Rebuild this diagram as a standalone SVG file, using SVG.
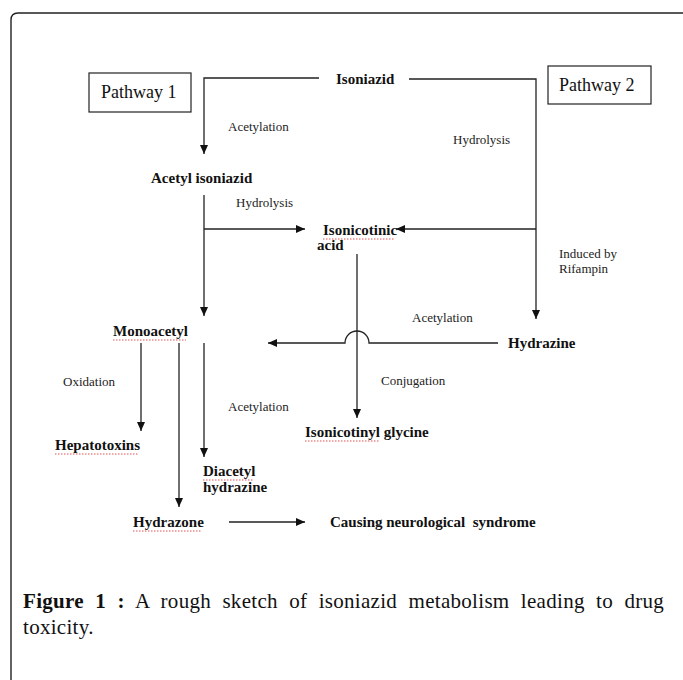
<svg xmlns="http://www.w3.org/2000/svg" width="683" height="680" viewBox="0 0 683 680">
<defs>
<marker id="ah" markerUnits="userSpaceOnUse" markerWidth="10" markerHeight="9" refX="9" refY="4" orient="auto">
<path d="M0,0 L9,4 L0,8 z" fill="#111"/>
</marker>
<style>
.ln{fill:none;stroke:#222;stroke-width:1.3}
.ar{fill:none;stroke:#222;stroke-width:1.3;marker-end:url(#ah)}
.b{font-family:"Liberation Serif","DejaVu Serif",serif;font-weight:bold;font-size:15px;fill:#111}
.r{font-family:"Liberation Serif","DejaVu Serif",serif;font-size:13px;fill:#222}
.p{font-family:"Liberation Serif","DejaVu Serif",serif;font-size:18px;fill:#111}
.cap{font-family:"Liberation Serif","DejaVu Serif",serif;font-size:21px;fill:#111}
.sq{fill:none;stroke:#e05050;stroke-width:1;stroke-dasharray:1.5 1.5}
</style>
</defs>
<rect width="683" height="680" fill="#fff"/>
<path d="M11,700 V20 Q11,13 18,13 H690" fill="none" stroke="#222" stroke-width="1.4"/>

<g id="pathway1"><rect x="89" y="73" width="102" height="39" fill="none" stroke="#222" stroke-width="1.2"/><text class="p" x="101" y="98">Pathway 1</text></g>
<g id="pathway2"><rect x="548" y="66" width="103" height="38" fill="none" stroke="#222" stroke-width="1.2"/><text class="p" x="559" y="91">Pathway 2</text></g>

<g id="connectors">
<path class="ar" d="M319,78 H204 V154"/>
<path class="ar" d="M409,79 H536 V319"/>
<path class="ar" d="M204,195 V316"/>
<path class="ar" d="M204,229 H305"/>
<path class="ar" d="M536,229 H396"/>
<path class="ar" d="M357,254 V418"/>
<path class="ar" d="M498,343 H369 A12,12 0 0 0 345,343 H268"/>
<path class="ar" d="M141,343 V431"/>
<path class="ar" d="M179,343 V507"/>
<path class="ar" d="M204,343 V457"/>
<path class="ar" d="M229,522 H305"/>
</g>

<g id="labels">
<text class="r" x="228" y="131">Acetylation</text>
<text class="r" x="453" y="144">Hydrolysis</text>
<text class="r" x="236" y="207">Hydrolysis</text>
<text class="r" x="559" y="258">Induced by</text>
<text class="r" x="559" y="273">Rifampin</text>
<text class="r" x="412" y="322">Acetylation</text>
<text class="r" x="381" y="385">Conjugation</text>
<text class="r" x="63" y="386">Oxidation</text>
<text class="r" x="228" y="411">Acetylation</text>
</g>

<g id="isoniazid"><text class="b" x="336" y="84">Isoniazid</text></g>
<g id="acetyl-isoniazid"><text class="b" x="151" y="183">Acetyl isoniazid</text></g>
<g id="isonicotinic-acid"><text class="b" x="323" y="235">Isonicotinic</text><text class="b" x="317" y="250">acid</text></g>
<g id="hydrazine"><text class="b" x="508" y="348">Hydrazine</text></g>
<g id="monoacetyl"><text class="b" x="113" y="336">Monoacetyl</text></g>
<g id="isonicotinyl-glycine"><text class="b" x="305" y="437">Isonicotinyl glycine</text></g>
<g id="hepatotoxins"><text class="b" x="55" y="450">Hepatotoxins</text></g>
<g id="diacetyl-hydrazine"><text class="b" x="203" y="476">Diacetyl</text><text class="b" x="203" y="492">hydrazine</text></g>
<g id="hydrazone"><text class="b" x="133" y="527">Hydrazone</text></g>
<g id="neuro"><text class="b" x="330" y="527" xml:space="preserve">Causing neurological  syndrome</text></g>

<g id="squiggles">
<path class="sq" d="M323,239 H394"/>
<path class="sq" d="M113,340 H186"/>
<path class="sq" d="M305,441 H380"/>
<path class="sq" d="M55,454 H139"/>
<path class="sq" d="M203,480 H254"/>
<path class="sq" d="M133,531 H202"/>
</g>

<g id="caption">
<text class="cap" x="23" y="608" letter-spacing="0.3" word-spacing="5.8"><tspan font-weight="bold">Figure 1 :</tspan> A rough sketch of isoniazid metabolism leading to drug</text>
<text class="cap" x="23" y="634" letter-spacing="0.3">toxicity.</text>
</g>
</svg>
